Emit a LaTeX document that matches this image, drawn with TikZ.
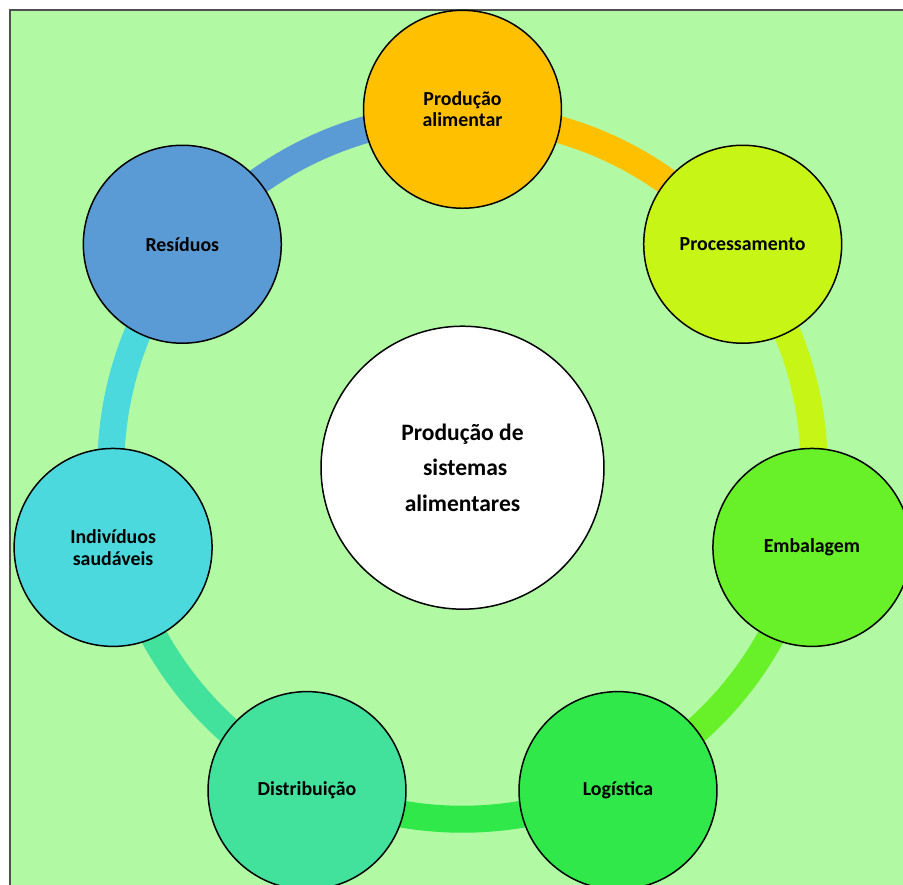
\documentclass[tikz,border=0pt]{standalone}
\usepackage{fontspec}
\setmainfont{Carlito}
\usetikzlibrary{calc}
\pgfdeclarelayer{bg}
\pgfdeclarelayer{ringlayer}
\pgfsetlayers{bg,ringlayer,main}
\definecolor{bgGreen}{HTML}{B1FAA3}
\definecolor{borderGray}{HTML}{505050}
\definecolor{cProd}{HTML}{FFC000}
\definecolor{cProc}{HTML}{C6F516}
\definecolor{cEmb}{HTML}{68F028}
\definecolor{cLog}{HTML}{30E84A}
\definecolor{cDist}{HTML}{42E19C}
\definecolor{cInd}{HTML}{4CD9DD}
\definecolor{cRes}{HTML}{5B9BD5}
\tikzset{
  stagebox/.style={circle, draw=black, line width=0.85pt, minimum size=3.96cm, inner sep=0pt,
    align=center, font=\bfseries\fontsize{11.3}{12.2}\selectfont},
  hubbox/.style={circle, draw=black, line width=0.85pt, fill=white, minimum size=5.66cm, inner sep=0pt,
    align=center, font=\bfseries\fontsize{13.4}{20.4}\selectfont},
  ringseg/.style={draw=#1, line width=0.54cm, bend left=25.714, looseness=0.896}
}
\begin{document}
\begin{tikzpicture}[x=0.02cm, y=0.02cm]
\useasboundingbox (0,0) rectangle (903,885);
\clip (0,0) rectangle (903,885);
\begin{pgfonlayer}{bg}
  \fill[white] (0,0) rectangle (903,885);
  \fill[bgGreen] (10,0) rectangle (903,875);
  \draw[borderGray, line width=0.9pt] (10,0) -- (10,875) -- (903,875);
\end{pgfonlayer}
\coordinate (O) at (462.5,417.3);
\node[hubbox] (hub) at (O) {Produção de\\\mbox{}\ sistemas\\alimentares};
\node[stagebox, fill=cProd] (n1) at ($(O)+(90:358.4)$) {Produção\\alimentar};
\node[stagebox, fill=cProc] (n2) at ($(O)+(38.571:358.4)$) {Processamento};
\node[stagebox, fill=cEmb]  (n3) at ($(O)+(-12.857:358.4)$) {Embalagem};
\node[stagebox, fill=cLog]  (n4) at ($(O)+(-64.286:358.4)$) {Logística};
\node[stagebox, fill=cDist] (n5) at ($(O)+(-115.714:358.4)$) {Distribuição};
\node[stagebox, fill=cInd]  (n6) at ($(O)+(-167.143:358.4)$) {Indivíduos\\saudáveis};
\node[stagebox, fill=cRes]  (n7) at ($(O)+(141.429:358.4)$) {Resíduos};
\foreach \i in {1,...,7}{
  \coordinate (r\i) at ($(O)!0.98131!(n\i.center)$);
}
\begin{pgfonlayer}{ringlayer}
  \draw[ringseg=cProd] (r1) to (r2);
  \draw[ringseg=cProc] (r2) to (r3);
  \draw[ringseg=cEmb]  (r3) to (r4);
  \draw[ringseg=cLog]  (r4) to (r5);
  \draw[ringseg=cDist] (r5) to (r6);
  \draw[ringseg=cInd]  (r6) to (r7);
  \draw[ringseg=cRes]  (r7) to (r1);
\end{pgfonlayer}
\end{tikzpicture}
\end{document}
